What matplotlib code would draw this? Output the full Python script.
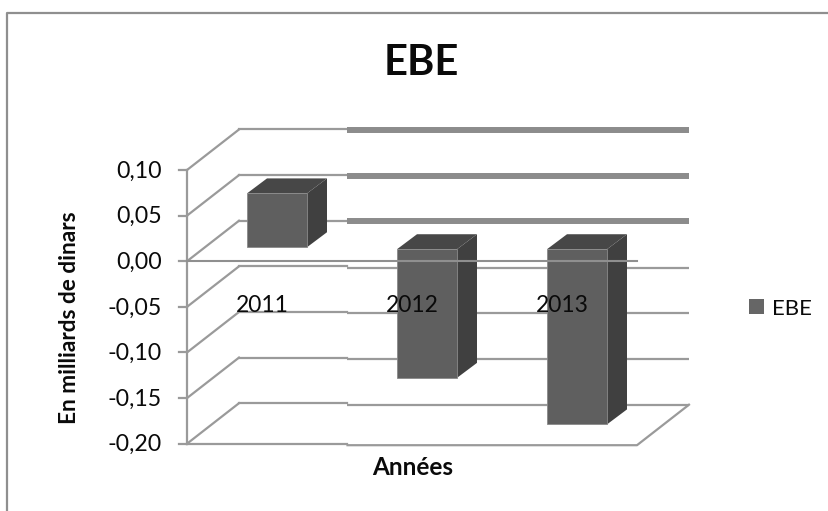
import matplotlib
matplotlib.use("Agg")
import matplotlib.pyplot as plt
from matplotlib.lines import Line2D
from matplotlib.patches import Polygon, Rectangle

annees = ["2011", "2012", "2013"]
ebe = [0.059, -0.141, -0.192]
niveaux = [0.10, 0.05, 0.00, -0.05, -0.10, -0.15, -0.20]
tick_labels = ["0,10", "0,05", "0,00", "-0,05", "-0,10", "-0,15", "-0,20"]

W, H = 829, 511
plt.rcParams['font.family'] = ['Lato', 'DejaVu Sans']

fig = plt.figure(figsize=(W / 100, H / 100), dpi=100)
# zone du plan avant : x 187-637 px, y 170-443.7 px
ax = fig.add_axes([187 / W, 1 - 443.7 / H, 450 / W, 273.7 / H])
ax.set_xlim(0, 3)
ax.set_ylim(-0.20, 0.10)
ax.axis("off")

GRIS = "#9a9a9a"
NOIR = "#0a0a0a"
PX = 0.30 / 273.7  # un pixel en unites de y
# profondeur de la perspective, en unites de donnees
DX = 52 / 150
DY = 40.5 * PX
COUPE = 1.07  # l'image est decalee a partir d'ici
DECAL = 1.5 * PX

for v in niveaux:
    ax.plot([0, DX], [v, v + DY], color=GRIS, lw=1.6, clip_on=False, zorder=1)
    ax.plot([DX, COUPE], [v + DY, v + DY], color=GRIS, lw=1.6, clip_on=False, zorder=1)
    if v > -0.01:
        ax.plot([COUPE, 3 + DX], [v + DY - DECAL / 2, v + DY - DECAL / 2], color="#8c8c8c", lw=4.3,
                clip_on=False, zorder=1, solid_capstyle="butt")
    else:
        ax.plot([COUPE, 3 + DX], [v + DY - DECAL, v + DY - DECAL], color=GRIS, lw=1.6,
                clip_on=False, zorder=1, solid_capstyle="butt")
    ax.plot([-0.055, 0], [v, v], color=GRIS, lw=1.6, clip_on=False, zorder=1)

# axe vertical et plancher
ax.plot([0, 0], [-0.20, 0.10], color=GRIS, lw=1.6, clip_on=False, zorder=1)
ax.plot([0, COUPE], [-0.20, -0.20], color=GRIS, lw=1.6, clip_on=False, zorder=1)
ax.plot([COUPE, 3, 3 + DX], [-0.20 - DECAL, -0.20 - DECAL, -0.20 + DY - DECAL], color=GRIS, lw=1.6,
        clip_on=False, zorder=1)

# barres en fausse 3D
largeur = 0.40
dx_av = 15 / 150
dy_av = 14 * PX
dx_bar = 20 / 150
dy_bar = 15 * PX
for i, val in enumerate(ebe):
    decal = 2 * PX if val < 0 else 0
    x0 = i + 0.5 + dx_av - largeur / 2
    x1 = x0 + largeur
    y0 = dy_av - decal
    y1 = val + dy_av - decal
    haut = max(y0, y1)
    bas = min(y0, y1)
    ax.add_patch(Polygon([(x1, bas), (x1 + dx_bar, bas + dy_bar), (x1 + dx_bar, haut + dy_bar), (x1, haut)],
                         fc="#404040", ec="none", zorder=2, clip_on=False))
    ax.add_patch(Polygon([(x0, haut), (x0 + dx_bar, haut + dy_bar), (x1 + dx_bar, haut + dy_bar), (x1, haut)],
                         fc="#474747", ec="none", zorder=2, clip_on=False))
    ax.add_patch(Rectangle((x0, bas), largeur, haut - bas, fc="#5f5f5f", ec="#8a8a8a", lw=0.6,
                           zorder=3, clip_on=False))

# ligne du zero au premier plan
ax.plot([0, 3], [0, 0], color="#8f8f8f", lw=1.5, clip_on=False, zorder=4)

for i, a in enumerate(annees):
    ax.text(i + 0.5, -0.049, a, ha="center", va="center", fontsize=16.4, color=NOIR, zorder=5)
for v, lab in zip(niveaux, tick_labels):
    ax.text(-25 / 150, v - PX, lab, ha="right", va="center", fontsize=16.7, color=NOIR)

fig.text(421 / W, 1 - 63 / H, "EBE", ha="center", va="center", fontsize=30, fontweight="bold", color=NOIR)
fig.text(70 / W, 1 - 318 / H, "En milliards de dinars", rotation=90, ha="center", va="center",
         fontsize=16.3, fontweight="bold", color=NOIR)
fig.text(412.5 / W, 1 - 467 / H, "Années", ha="center", va="center", fontsize=17.5, fontweight="bold", color=NOIR)

# legende
fig.patches.append(Rectangle((749 / W, 1 - 314 / H), 15 / W, 15 / H, transform=fig.transFigure, fc="#666666", ec="none"))
fig.text(772 / W, 1 - 309 / H, "EBE", ha="left", va="center", fontsize=16, color=NOIR)

# cadre du graphique : seulement le haut et la gauche sont visibles
fig.add_artist(Line2D([7 / W, 7 / W, 1], [0, 1 - 13 / H, 1 - 13 / H], transform=fig.transFigure,
                      color="#8f8f8f", lw=1.6))

fig.savefig("out.png", dpi=100)
